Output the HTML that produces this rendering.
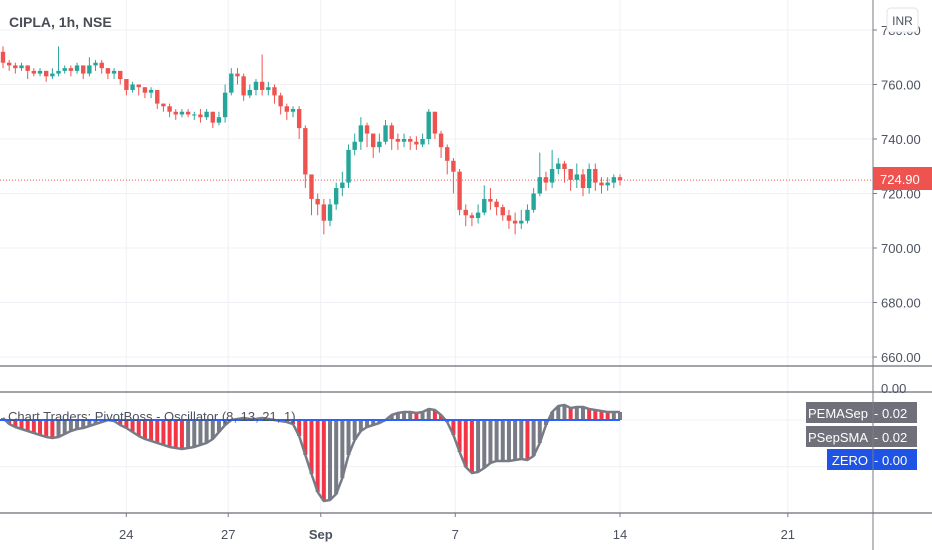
<!DOCTYPE html>
<html><head><meta charset="utf-8"><style>
html,body{margin:0;padding:0;background:#fff;width:932px;height:550px;overflow:hidden}
svg{display:block;font-family:"Liberation Sans",sans-serif}
</style></head><body>
<svg id="chart" width="932" height="550" viewBox="0 0 932 550" xmlns="http://www.w3.org/2000/svg">
<g id="grid"></g>
<g id="candles"></g>
<g id="osc"></g>
<g id="axes"></g>
</svg>
<script>
const closes=[768,767,766,767,765,764,765,763,764,765,766,765,767,764,767,768,766,764,765,762,758,760,759,757,758,753,752,750,749,750,749,749,748,750,746,748,757,764,763,756,758,761,758,759,756,752,750,751,744,727,718,716,710,716,722,724,736,739,745,742,737,739,745,740,739,740,739,738,740,750,742,737,732,728,714,712,711,713,718,717,715,712,710,709,710,714,720,726,724,729,731,729,725,727,722,729,724,723,724,726,724.9];
const firstOpen=772;
const highs=[774,769,768,768,767,766,766,765,766,774,767,767,768,767,770,769,769,766,766,763,762,761,760,759,759,758,753,753,751,751,751,750,751,751,750,750,760,766,766,764,760,762,771,761,760,757,753,752,752,745,724,720,718,718,724,728,738,742,748,746,742,742,747,746,742,742,741,741,742,751,750,743,738,733,729,716,713,716,723,722,718,716,714,713,714,716,722,735,728,736,733,732,729,731,729,731,731,726,726,727,727];
const lows=[766,765,764,765,762,763,763,761,762,763,764,763,764,762,763,765,764,762,762,760,756,757,756,755,755,751,750,748,747,748,748,747,746,747,744,745,746,756,760,754,755,756,756,756,753,749,747,748,740,722,712,712,705,708,714,719,722,734,736,737,733,735,738,736,736,737,736,736,737,738,740,733,727,720,712,708,708,709,712,714,712,710,707,705,707,709,713,719,721,722,727,724,721,722,719,720,721,720,721,722,723];
const oscValues=[0.006,-0.012,-0.021,-0.027,-0.033,-0.039,-0.045,-0.051,-0.054,-0.051,-0.042,-0.033,-0.027,-0.024,-0.018,-0.012,-0.006,0,-0.003,-0.015,-0.024,-0.036,-0.048,-0.057,-0.063,-0.069,-0.075,-0.081,-0.084,-0.087,-0.084,-0.081,-0.075,-0.069,-0.057,-0.036,-0.015,0,0.003,0.006,0.003,0.003,0.006,0.003,0,-0.003,-0.006,-0.012,-0.048,-0.105,-0.162,-0.216,-0.243,-0.240,-0.222,-0.174,-0.105,-0.060,-0.033,-0.021,-0.015,-0.009,0,0.015,0.021,0.024,0.024,0.021,0.024,0.033,0.030,0.015,-0.006,-0.045,-0.096,-0.141,-0.159,-0.156,-0.144,-0.129,-0.123,-0.123,-0.123,-0.120,-0.117,-0.120,-0.108,-0.069,-0.015,0.024,0.042,0.045,0.036,0.039,0.039,0.033,0.030,0.027,0.024,0.024,0.024];
const priceTicks=[780,760,740,720,700,680,660];
const dateLabels=["24","27","Sep","7","14","21"];
const dateBarIndex=[19.98,36.5,51.5,73.3,100.0,127.2];
const lastPrice=724.9;

const NS="http://www.w3.org/2000/svg";
function mk(tag,attrs,parent,text){const e=document.createElementNS(NS,tag);for(const k in attrs)e.setAttribute(k,attrs[k]);if(text!==undefined)e.textContent=text;parent.appendChild(e);return e;}
const xBar=i=>3+i*6.17;
const yPrice=p=>139+(740-p)*2.725;
const yOsc=v=>420-v*333.3;
const G=document.getElementById('grid'),C=document.getElementById('candles'),O=document.getElementById('osc'),A=document.getElementById('axes');

// grid
dateBarIndex.forEach(b=>{const l=mk('line',{x1:xBar(b),x2:xBar(b),y1:0,y2:513,stroke:'#eef0f5','stroke-width':1},G);

});
priceTicks.forEach(p=>{const l=mk('line',{x1:0,x2:873,y1:yPrice(p),y2:yPrice(p),stroke:'#eef0f5'},G);

});
[0,-0.14].forEach(v=>{const l=mk('line',{x1:0,x2:873,y1:yOsc(v),y2:yOsc(v),stroke:'#eef0f5'},G);

});

// last price line
const lp=mk('line',{x1:0,x2:873,y1:yPrice(lastPrice),y2:yPrice(lastPrice),stroke:'#ef5350','stroke-dasharray':'1,2','stroke-width':1},C);



// candles
closes.forEach((c,i)=>{
  const o=i===0?firstOpen:closes[i-1];
  const col=c>=o?'#26a69a':'#ef5350';
  const x=xBar(i);
  const g=mk('g',{},C);
  
  
  mk('line',{x1:x,x2:x,y1:yPrice(highs[i]),y2:yPrice(lows[i]),stroke:col,'stroke-width':1},g);
  const top=yPrice(Math.max(o,c)),bot=yPrice(Math.min(o,c));
  mk('rect',{x:x-2.2,y:top,width:4.4,height:Math.max(1,bot-top),fill:col},g);
});

// oscillator histogram
oscValues.forEach((v,i)=>{
  const prev=i===0?0:oscValues[i-1];
  const col=v<prev?'#f23645':'#787b86';
  const y0=yOsc(0),y1=yOsc(v);
  const r=mk('rect',{x:xBar(i)-2,y:Math.min(y0,y1),width:4,height:Math.max(0.5,Math.abs(y1-y0)),fill:col},O);
  
  
});
const pts=oscValues.map((v,i)=>xBar(i)+','+yOsc(v)).join(' ');
const pl=mk('polyline',{points:pts,fill:'none',stroke:'#787b86','stroke-width':2.5,'stroke-linejoin':'round'},O);


const zl=mk('line',{x1:0,x2:xBar(oscValues.length-1),y1:yOsc(0),y2:yOsc(0),stroke:'#2962ff','stroke-width':2},O);



// axes
const ax=mk('line',{x1:873,x2:873,y1:0,y2:550,stroke:'#787b86'},A);


[366,392,513].forEach(y=>{const l=mk('line',{x1:0,x2:932,y1:y,y2:y,stroke:'#6a6d78','stroke-width':1.2},A);

});
priceTicks.forEach(p=>{const y=yPrice(p);
  mk('line',{x1:873,x2:877,y1:y,y2:y,stroke:'#787b86'},A);
  const t=mk('text',{x:881,y:y+5,'font-size':13,fill:'#4c525e'},A,p.toFixed(2));
  
  });
dateLabels.forEach((d,i)=>{const x=xBar(dateBarIndex[i]);
  mk('line',{x1:x,x2:x,y1:513,y2:517,stroke:'#787b86'},A);
  const t=mk('text',{x:x,y:539,'font-size':13,fill:'#4c525e','text-anchor':'middle','font-weight':d==='Sep'?'bold':'normal'},A,d);
  
  });
</script>
<svg style="position:absolute;left:0;top:0" width="932" height="550">
<g font-family="Liberation Sans, sans-serif">
<text x="9" y="27" font-size="14" font-weight="bold" fill="#4a4d57">CIPLA, 1h, NSE</text>
<text x="8" y="421" font-size="13" fill="#4c525e">Chart Traders: PivotBoss - Oscillator (8, 13, 21, 1)</text>
<rect x="874" y="367" width="58" height="24" fill="#fff"/>
<text x="881" y="393" font-size="13" fill="#4c525e">0.00</text>
<rect x="887" y="8" width="31" height="24" rx="4" fill="#fff" stroke="#e0e3eb"/>
<text x="902.5" y="25" font-size="12" fill="#4c525e" text-anchor="middle">INR</text>
<g><rect x="873" y="167" width="59" height="23" fill="#ef5350"/><text x="880" y="184" font-size="13" fill="#fff">724.90</text></g>
<g><rect x="806" y="402" width="111" height="21" fill="#6f7079"/><text x="868" y="418" font-size="13" fill="#fff" text-anchor="end">PEMASep</text><text x="874" y="418" font-size="13" fill="#fff">- 0.02</text></g>
<g><rect x="806" y="426" width="111" height="21" fill="#6f7079"/><text x="868" y="442" font-size="13" fill="#fff" text-anchor="end">PSepSMA</text><text x="874" y="442" font-size="13" fill="#fff">- 0.02</text></g>
<g><rect x="827" y="449" width="90" height="21" fill="#1e53e5"/><text x="868" y="465" font-size="13" fill="#fff" text-anchor="end">ZERO</text><text x="874" y="465" font-size="13" fill="#fff">- 0.00</text></g>
<line x1="873" y1="0" x2="873" y2="550" stroke="#787b86"/>
</g></svg>
</body></html>
